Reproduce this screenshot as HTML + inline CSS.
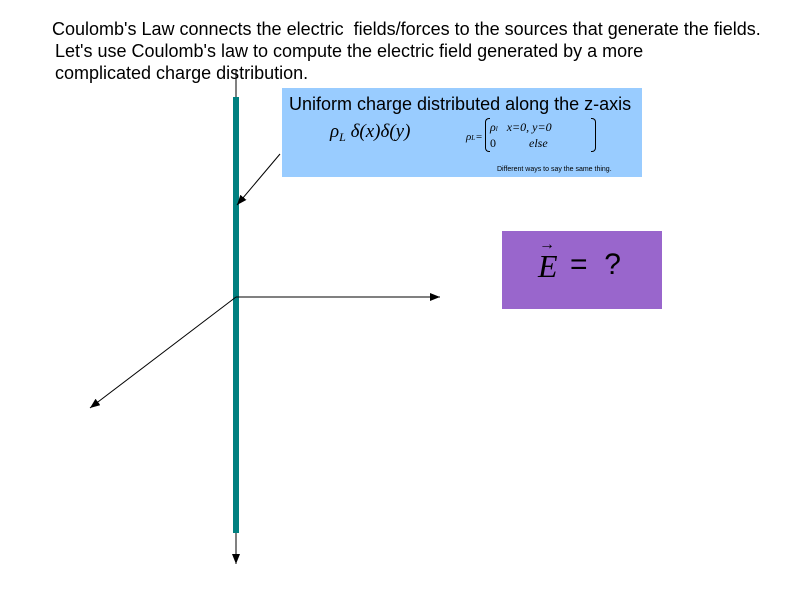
<!DOCTYPE html>
<html><head><style>
body{margin:0;width:800px;height:600px;background:#fff;position:relative;overflow:hidden;font-family:"Liberation Sans",sans-serif}
.t{position:absolute;font-size:18px;color:#000;white-space:nowrap;line-height:1}
</style></head><body>
<div class="t" style="left:52px;top:20px">Coulomb's Law connects the electric&nbsp; fields/forces to the sources that generate the fields.</div>
<div class="t" style="left:55px;top:42px">Let's use Coulomb's law to compute the electric field generated by a more</div>
<div class="t" style="left:55px;top:64px">complicated charge distribution.</div>
<div style="position:absolute;left:282px;top:88px;width:360px;height:89px;background:#99ccff"></div>
<div class="t" style="left:289px;top:95px">Uniform charge distributed along the z-axis</div>
<div class="t" style="left:330px;top:122px;font-family:'Liberation Serif',serif;font-style:italic;font-size:19px">ρ<span style="font-size:12px;vertical-align:-4px">L</span> δ(x)δ(y)</div>
<div class="t" style="left:466px;top:132px;font-family:'Liberation Serif',serif;font-style:italic;font-size:11px">ρ<span style="font-size:7px">L</span>=</div>
<div style="position:absolute;left:485px;top:118px;width:4px;height:32px;border:1px solid #000;border-right:none;border-radius:4px 0 0 4px"></div>
<div style="position:absolute;left:591px;top:118px;width:4px;height:32px;border:1px solid #000;border-left:none;border-radius:0 4px 4px 0"></div>
<div class="t" style="left:490px;top:121px;font-family:'Liberation Serif',serif;font-style:italic;font-size:12px">ρ<span style="font-size:7px">l</span>&nbsp;&nbsp; x=0, y=0</div>
<div class="t" style="left:490px;top:137px;font-family:'Liberation Serif',serif;font-size:12px">0&nbsp;&nbsp;&nbsp;&nbsp;&nbsp;&nbsp;&nbsp;&nbsp;&nbsp;&nbsp; <i>else</i></div>
<div class="t" style="left:497px;top:166px;font-size:7px">Different ways to say the same thing.</div>
<div style="position:absolute;left:502px;top:231px;width:160px;height:78px;background:#9966cc"></div>
<div class="t" style="left:538px;top:250px;font-family:'Liberation Serif',serif;font-style:italic;font-size:32px">E</div>
<div class="t" style="left:539px;top:237px;font-size:16px">→</div>
<div class="t" style="left:570px;top:250px;font-size:30px">= &nbsp;?</div>
<svg width="800" height="600" style="position:absolute;left:0;top:0">
<defs><marker id="a" markerWidth="10" markerHeight="8" refX="10" refY="4" orient="auto" markerUnits="userSpaceOnUse"><path d="M0,0L10,4L0,8z" fill="#000"/></marker></defs>
<line x1="236" y1="70" x2="236" y2="564" stroke="#000" stroke-width="1" marker-end="url(#a)"/>
<rect x="233" y="97" width="6" height="436" fill="#008080"/>
<line x1="236" y1="297" x2="440" y2="297" stroke="#000" marker-end="url(#a)"/>
<line x1="236" y1="297" x2="90" y2="408" stroke="#000" marker-end="url(#a)"/>
<line x1="280" y1="154" x2="237" y2="205" stroke="#000" marker-end="url(#a)"/>
</svg>
</body></html>
